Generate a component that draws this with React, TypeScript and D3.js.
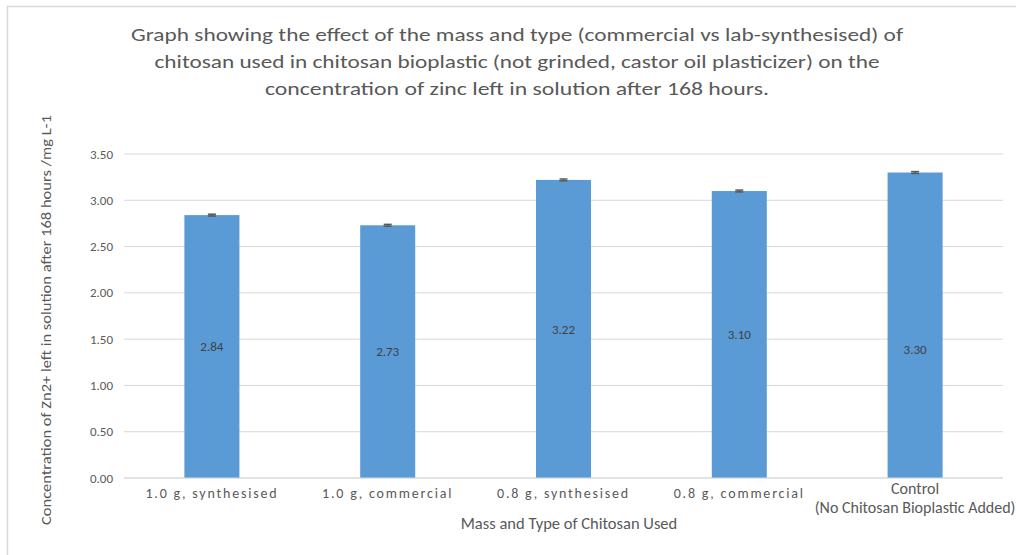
import React from "react";
import * as d3 from "d3";

const categories = [
  ["1.0 g, synthesised"],
  ["1.0 g, commercial"],
  ["0.8 g, synthesised"],
  ["0.8 g, commercial"],
  ["Control", "(No Chitosan Bioplastic Added)"],
];
const values = [2.84, 2.73, 3.22, 3.1, 3.3];
const errors = [0.01, 0.01, 0.01, 0.01, 0.01];
const labelShift = [0, 0, 0, 0, 24];
const yTicks = [0, 0.5, 1, 1.5, 2, 2.5, 3, 3.5];
const titleLines = [
  "Graph showing the effect of the mass and type (commercial vs lab-synthesised) of",
  "chitosan used in chitosan bioplastic (not grinded, castor oil plasticizer) on the",
  "concentration of zinc left in solution after 168 hours.",
];
const titleWidths = [772, 725, 504];
const yTitle = "Concentration of Zn2+ left in solution after 168 hours /mg L-1";
const xTitle = "Mass and Type of Chitosan Used";

const FONT = "Carlito, Lato, 'Open Sans', sans-serif";

export default function App() {
  const W = 1016, H = 555;
  const left = 124, right = 1003, top = 154, bottom = 478;
  const x = d3.scaleBand<number>().domain(d3.range(values.length)).range([left, right]).padding(0);
  const y = d3.scaleLinear().domain([0, 3.5]).range([bottom, top]);
  const barW = x.bandwidth() * 0.313;

  return (
    <svg width={W} height={H} style={{ position: "absolute", left: 0, top: 0, background: "#fff" }} fontFamily={FONT}>
      <rect x={7.5} y={6.5} width={1030} height={570} fill="#fff" stroke="#d9d9d9" strokeWidth={1.5} />
      {titleLines.map((t, i) => (
        <text key={i} x={517} y={41 + i * 27} textAnchor="middle" fontSize={19} fill="#595959"
          textLength={titleWidths[i]} lengthAdjust="spacingAndGlyphs">{t}</text>
      ))}
      {yTicks.map((t) => (
        <g key={t}>
          <line x1={left} x2={right} y1={y(t)} y2={y(t)} stroke="#d9d9d9" strokeWidth={1} />
          <text x={113} y={y(t)} dy="0.35em" textAnchor="end" fontSize={13} fill="#595959">{t.toFixed(2)}</text>
        </g>
      ))}
      {values.map((v, i) => {
        const cx = (x(i) as number) + x.bandwidth() / 2;
        const e = errors[i];
        return (
          <g key={i}>
            <rect x={cx - barW / 2} y={y(v)} width={barW} height={y(0) - y(v)} fill="#5b9bd5" />
            <line x1={cx} x2={cx} y1={y(v + e)} y2={y(v - e)} stroke="#595959" strokeWidth={1.5} />
            <line x1={cx - 4} x2={cx + 4} y1={y(v + e)} y2={y(v + e)} stroke="#595959" strokeWidth={1.5} />
            <line x1={cx - 4} x2={cx + 4} y1={y(v - e)} y2={y(v - e)} stroke="#595959" strokeWidth={1.5} />
            <text x={cx} y={y(v / 2) + labelShift[i]} dy="0.35em" textAnchor="middle" fontSize={13} fill="#404040">{v.toFixed(2)}</text>
            {categories[i].length === 1 ? (
              <text x={cx} y={498} textAnchor="middle" fontSize={14} letterSpacing={1.8} fill="#595959">{categories[i][0]}</text>
            ) : (
              categories[i].map((l, j) => (
                <text key={j} x={cx} y={494 + j * 19} textAnchor="middle" fontSize={16} fill="#595959">{l}</text>
              ))
            )}
          </g>
        );
      })}
      <line x1={left} x2={right} y1={bottom} y2={bottom} stroke="#d9d9d9" strokeWidth={1} />
      <text x={569} y={529} textAnchor="middle" fontSize={16.5} fill="#595959">{xTitle}</text>
      <text transform="translate(51,320) rotate(-90)" textAnchor="middle" fontSize={13.5} fill="#595959"
        textLength={410} lengthAdjust="spacingAndGlyphs">{yTitle}</text>
    </svg>
  );
}
